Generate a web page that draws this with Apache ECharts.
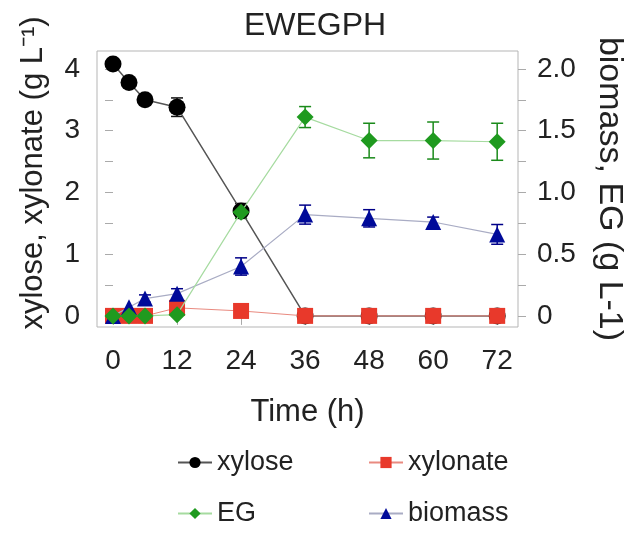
<!DOCTYPE html>
<html>
<head>
<meta charset="utf-8">
<script src="https://cdn.jsdelivr.net/npm/echarts@6/dist/echarts.min.js"></script>
<style>
  html, body { margin: 0; padding: 0; background: #fff; }
  #main { width: 634px; height: 533px; }
</style>
</head>
<body>
<div id="main"></div>
<script>
// sampling times (h)
var times = [0, 3, 6, 12, 24, 36, 48, 60, 72];
// left axis (g L-1)
var xylose = [4.08, 3.78, 3.5, 3.38, 1.7, 0, 0, 0, 0];
var xyloseErr = [0.03, 0.03, 0.05, 0.15, 0.12, 0, 0, 0, 0];
var xylonate = [0, 0, 0, 0.13, 0.08, 0, 0, 0, 0];
// right axis (g L-1)
var eg = [0, 0, 0, 0.01, 0.84, 1.61, 1.42, 1.42, 1.41];
var egErr = [0, 0, 0, 0.01, 0.05, 0.085, 0.14, 0.15, 0.15];
var biomass = [0.0, 0.07, 0.14, 0.18, 0.4, 0.82, 0.79, 0.76, 0.66];
var biomassErr = [0.01, 0.02, 0.03, 0.04, 0.07, 0.077, 0.07, 0.04, 0.08];

var xTicks = [0, 12, 24, 36, 48, 60, 72];
var leftLabels = [0, 1, 2, 3, 4];
var leftTicks = [0, 0.5, 1, 1.5, 2, 2.5, 3, 3.5, 4];
var rightLabels = [0, 0.5, 1, 1.5, 2];
var rightTicks = [0, 0.25, 0.5, 0.75, 1, 1.25, 1.5, 1.75, 2];

var font = 'Liberation Sans, Arial, sans-serif';

function pairs(vals) {
  return times.map(function (t, i) { return [t, vals[i]]; });
}
function errData(vals, errs) {
  var out = [];
  times.forEach(function (t, i) {
    if (errs[i] > 0.02) out.push([t, vals[i] - errs[i], vals[i] + errs[i]]);
  });
  return out;
}
function errSeries(name, vals, errs, color, axis) {
  return {
    name: name + ' err',
    type: 'custom',
    yAxisIndex: axis,
    z: 1,
    silent: true,
    encode: { x: 0, y: [1, 2] },
    data: errData(vals, errs),
    renderItem: function (params, api) {
      var x = api.value(0);
      var lo = api.coord([x, api.value(1)]);
      var hi = api.coord([x, api.value(2)]);
      var w = 6;
      var st = { stroke: color, lineWidth: 1.5 };
      return {
        type: 'group',
        children: [
          { type: 'line', shape: { x1: lo[0], y1: lo[1], x2: hi[0], y2: hi[1] }, style: st },
          { type: 'line', shape: { x1: lo[0] - w, y1: lo[1], x2: lo[0] + w, y2: lo[1] }, style: st },
          { type: 'line', shape: { x1: hi[0] - w, y1: hi[1], x2: hi[0] + w, y2: hi[1] }, style: st }
        ]
      };
    }
  };
}

var chart = echarts.init(document.getElementById('main'));
var option = {
  animation: false,
  backgroundColor: '#fff',
  textStyle: { fontFamily: font },
  title: {
    text: 'EWEGPH',
    left: 310,
    textAlign: 'center',
    top: 5,
    textStyle: { fontFamily: font, fontSize: 32, fontWeight: 'normal', color: '#222' }
  },
  legend: [
    { data: ['xylose'], left: 177, top: 449 },
    { data: ['xylonate'], left: 368, top: 449 },
    { data: ['EG'], left: 177, top: 500 },
    { data: ['biomass'], left: 368, top: 500 }
  ].map(function (l) {
    l.padding = 0;
    l.itemWidth = 34;
    l.itemHeight = 14;
    l.textStyle = { fontFamily: font, fontSize: 27, color: '#222' };
    return l;
  }),
  grid: {
    left: 97, right: 113, top: 51, bottom: 206,
    show: true, borderColor: '#b5b5b5', borderWidth: 1
  },
  xAxis: {
    type: 'value',
    min: -3, max: 75.9,
    name: 'Time (h)',
    nameLocation: 'middle',
    nameGap: 70,
    nameTextStyle: { fontFamily: font, fontSize: 31, color: '#222' },
    axisLine: { show: false },
    splitLine: { show: false },
    axisTick: { show: true, customValues: xTicks, length: 9, lineStyle: { color: '#aaa' } },
    axisLabel: { customValues: xTicks, fontSize: 28, color: '#222', margin: 20, fontFamily: font }
  },
  yAxis: [
    {
      type: 'value',
      min: -0.18, max: 4.29,
      name: 'xylose, xylonate (g L\u207B\u00B9)',
      nameLocation: 'middle',
      nameRotate: 90,
      nameGap: 48,
      nameTextStyle: { fontFamily: font, fontSize: 31, color: '#222', padding: [0, 0, 0, 32] },
      axisLine: { show: false },
      splitLine: { show: false },
      axisTick: { show: true, customValues: leftTicks, length: 8, lineStyle: { color: '#aaa' } },
      axisLabel: { customValues: leftLabels, fontSize: 28, color: '#222', margin: 17, fontFamily: font }
    },
    {
      type: 'value',
      position: 'right',
      min: -0.09, max: 2.145,
      name: 'biomass, EG (g L-1)',
      nameLocation: 'middle',
      nameRotate: -90,
      nameGap: 74,
      nameTextStyle: { fontFamily: font, fontSize: 34, color: '#222' },
      axisLine: { show: false },
      splitLine: { show: false },
      axisTick: { show: true, customValues: rightTicks, length: 8, lineStyle: { color: '#aaa' } },
      axisLabel: {
        customValues: rightLabels, fontSize: 28, color: '#222', margin: 19, fontFamily: font,
        formatter: function (v) { return v === 0 ? '0' : v.toFixed(1); }
      }
    }
  ],
  series: [
    errSeries('xylose', xylose, xyloseErr, '#111', 0),
    errSeries('EG', eg, egErr, '#1a8a1a', 1),
    errSeries('biomass', biomass, biomassErr, '#000088', 1),
    {
      name: 'xylose', type: 'line', yAxisIndex: 0, z: 2,
      data: pairs(xylose),
      symbol: 'circle', symbolSize: 17,
      itemStyle: { color: '#000' },
      lineStyle: { color: '#555', width: 1.5 }
    },
    {
      name: 'xylonate', type: 'line', yAxisIndex: 0, z: 3,
      data: pairs(xylonate),
      symbol: 'rect', symbolSize: 16,
      itemStyle: { color: '#e8392b' },
      lineStyle: { color: '#e98a80', width: 1 }
    },
    {
      name: 'biomass', type: 'line', yAxisIndex: 1, z: 4,
      data: pairs(biomass),
      symbol: 'triangle', symbolSize: 16,
      itemStyle: { color: '#000a99' },
      lineStyle: { color: '#a9acc4', width: 1.2 }
    },
    {
      name: 'EG', type: 'line', yAxisIndex: 1, z: 5,
      data: pairs(eg),
      symbol: 'diamond', symbolSize: 17,
      itemStyle: { color: '#1f9a1f' },
      lineStyle: { color: '#a6dba0', width: 1.2 }
    }
  ]
};
chart.setOption(option);
</script>
</body>
</html>
